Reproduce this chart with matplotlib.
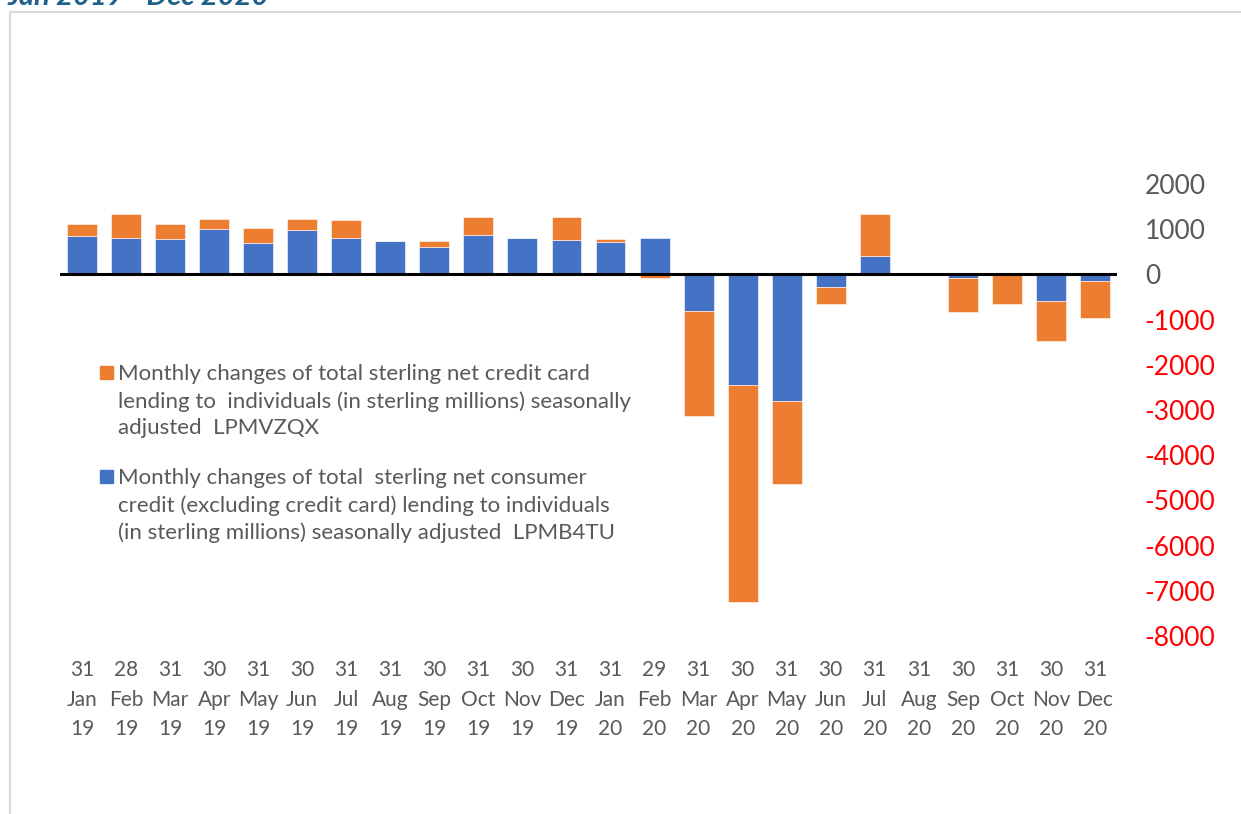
import matplotlib
matplotlib.use("Agg")
import matplotlib.pyplot as plt
import numpy as np

plt.rcParams['font.family'] = ['Lato', 'DejaVu Sans']

months = ["31\nJan\n19", "28\nFeb\n19", "31\nMar\n19", "30\nApr\n19", "31\nMay\n19", "30\nJun\n19",
          "31\nJul\n19", "31\nAug\n19", "30\nSep\n19", "31\nOct\n19", "30\nNov\n19", "31\nDec\n19",
          "31\nJan\n20", "29\nFeb\n20", "31\nMar\n20", "30\nApr\n20", "31\nMay\n20", "30\nJun\n20",
          "31\nJul\n20", "31\nAug\n20", "30\nSep\n20", "31\nOct\n20", "30\nNov\n20", "31\nDec\n20"]

# consumer credit excl. credit cards (LPMB4TU), GBP millions
consumer = [846, 811, 773, 1009, 700, 972, 811, 744, 611, 877, 803, 766,
            722, 796, -807, -2442, -2796, -272, 409, 0, -73, 0, -581, -139]
# credit card lending (LPMVZQX), GBP millions
cards = [259, 522, 332, 206, 317, 243, 397, 0, 133, 390, 0, 501,
         66, -90, -2320, -4808, -1834, -391, 928, 0, -767, -654, -884, -824]

yticks = [2000, 1000, 0, -1000, -2000, -3000, -4000, -5000, -6000, -7000, -8000]

lbl_cards = ("Monthly changes of total sterling net credit card\n"
             "lending to  individuals (in sterling millions) seasonally\n"
             "adjusted  LPMVZQX")
lbl_consumer = ("Monthly changes of total  sterling net consumer\n"
                "credit (excluding credit card) lending to individuals\n"
                "(in sterling millions) seasonally adjusted  LPMB4TU")

BLUE = "#4472C4"
ORANGE = "#ED7D31"
GREY = "#595959"

W, H = 1241, 814
fig = plt.figure(figsize=(W / 100, H / 100), dpi=100)
ax = fig.add_axes([60 / W, 1 - 636 / H, (1117 - 60) / W, (636 - 184) / H])

x = np.arange(len(months))
consumer = np.array(consumer)
cards = np.array(cards)

# excel-style stacking: positives build up, negatives build down
pos_base = np.where(consumer > 0, consumer, 0)
neg_base = np.where(consumer < 0, consumer, 0)
card_base = np.where(cards >= 0, pos_base, neg_base)

ax.bar(x, consumer, width=0.68, color=BLUE, edgecolor="white", linewidth=0.4)
ax.bar(x, cards, bottom=card_base, width=0.68, color=ORANGE, edgecolor="white", linewidth=0.4)
ax.axhline(0, color="black", lw=2.2, zorder=3)

ax.set_xlim(-0.5, len(months) - 0.5)
ax.set_ylim(-8000, 2000)
ax.set_yticks(yticks)
ax.set_yticklabels([str(v) for v in yticks])
ax.yaxis.tick_right()
ax.tick_params(axis="y", length=0, pad=20, labelsize=19)
for t, v in zip(ax.get_yticklabels(), yticks):
    t.set_color("#FF0000" if v < 0 else GREY)

ax.set_xticks(x)
ax.set_xticklabels(months, linespacing=1.62)
ax.tick_params(axis="x", length=0, pad=17, labelsize=15, labelcolor=GREY)

for s in ax.spines.values():
    s.set_visible(False)

# legend drawn by hand so the swatch sits on the first line
for ypix, col, txt in [(372, ORANGE, lbl_cards), (476, BLUE, lbl_consumer)]:
    fig.add_artist(plt.Rectangle((100 / W, 1 - (ypix + 7) / H), 13 / W, 13 / H,
                                 transform=fig.transFigure, color=col))
    fig.text(118 / W, 1 - (ypix - 8) / H, txt, ha="left", va="top",
             fontsize=16, color=GREY, linespacing=1.42)

# page frame and cut-off heading
fig.add_artist(plt.Rectangle((10 / W, -0.1), 2, 1.1 - 12 / H, transform=fig.transFigure,
                             fill=False, edgecolor="#D9D9D9", lw=1.5))
fig.text(8 / W, 1 - 5 / H, "Jan 2019 - Dec 2020", ha="left", va="baseline",
         fontsize=21, fontweight="bold", fontstyle="italic", color="#1F5F8B")

fig.savefig("out.png", dpi=100, facecolor="white")
